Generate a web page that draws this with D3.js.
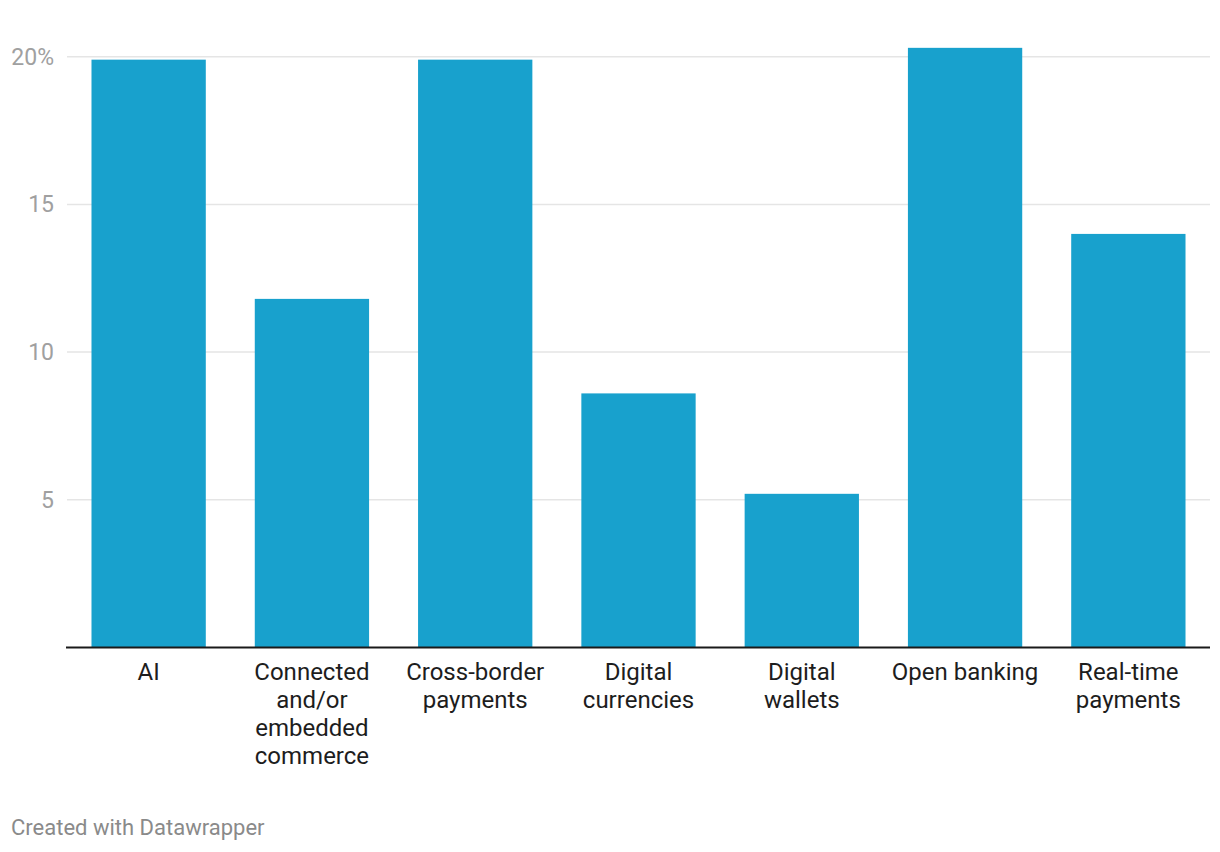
<!DOCTYPE html>
<html>
<head>
<meta charset="utf-8">
<script src="https://cdn.jsdelivr.net/npm/d3@7"></script>
<style>
  body { margin: 0; background: #fff; }
  svg { display: block; font-family: Roboto, sans-serif; }
</style>
</head>
<body>
<script>
// chart data
const categories = ["AI", "Connected and/or embedded commerce", "Cross-border payments",
  "Digital currencies", "Digital wallets", "Open banking", "Real-time payments"];
const values = [19.9, 11.8, 19.9, 8.6, 5.2, 20.3, 14.0];
const yTicks = [5, 10, 15, 20];
// manual line breaks, the way the labels wrap in the original
const labelLines = [["AI"], ["Connected", "and/or", "embedded", "commerce"], ["Cross-border", "payments"],
  ["Digital", "currencies"], ["Digital", "wallets"], ["Open banking"], ["Real-time", "payments"]];

const width = 1220, height = 852;
const margin = { top: 57, right: 10, bottom: 205, left: 67 };

const svg = d3.select("body").append("svg")
    .attr("width", width)
    .attr("height", height);

const x = d3.scaleBand()
    .domain(categories)
    .range([margin.left, width - margin.right])
    .paddingInner(0.3)
    .paddingOuter(0.15);

const y = d3.scaleLinear()
    .domain([0, 20])
    .range([height - margin.bottom + 0.4, margin.top - 0.3]);

// gridlines + tick labels
const grid = svg.append("g");
grid.selectAll("line")
    .data(yTicks)
    .join("line")
    .attr("x1", margin.left)
    .attr("x2", width - margin.right)
    .attr("y1", d => y(d))
    .attr("y2", d => y(d))
    .attr("stroke", "#e5e5e5")
    .attr("stroke-width", 1.5);

grid.selectAll("text")
    .data(yTicks)
    .join("text")
    .attr("x", 54)
    .attr("y", d => y(d))
    .attr("dy", "0.35em")
    .attr("text-anchor", "end")
    .style("font-size", "23px")
    .style("fill", "#a0a0a0")
    .text(d => d === 20 ? d + "%" : d);

// bars
svg.append("g")
    .selectAll("rect")
    .data(values)
    .join("rect")
    .attr("x", (d, i) => x(categories[i]))
    .attr("width", x.bandwidth())
    .attr("y", d => y(d))
    .attr("height", d => y(0) - y(d))
    .attr("fill", "#18a1cd");

// baseline
svg.append("line")
    .attr("x1", margin.left - 1)
    .attr("x2", width - margin.right)
    .attr("y1", y(0))
    .attr("y2", y(0))
    .attr("stroke", "#1a1a1a")
    .attr("stroke-width", 2);

// category labels
const lbl = svg.append("g")
    .selectAll("text")
    .data(categories)
    .join("text")
    .attr("x", d => x(d) + x.bandwidth() / 2)
    .attr("y", y(0) + 33)
    .attr("text-anchor", "middle")
    .style("font-size", "24px")
    .style("fill", "#1d1d1d");

lbl.selectAll("tspan")
    .data((d, i) => labelLines[i])
    .join("tspan")
    .attr("x", function() { return this.parentNode.getAttribute("x"); })
    .attr("dy", (d, i) => i === 0 ? 0 : 28)
    .text(d => d);

// footer
svg.append("text")
    .attr("x", 11)
    .attr("y", 835)
    .style("font-size", "22px")
    .style("fill", "#8a8a8a")
    .text("Created with Datawrapper");
</script>
</body>
</html>
